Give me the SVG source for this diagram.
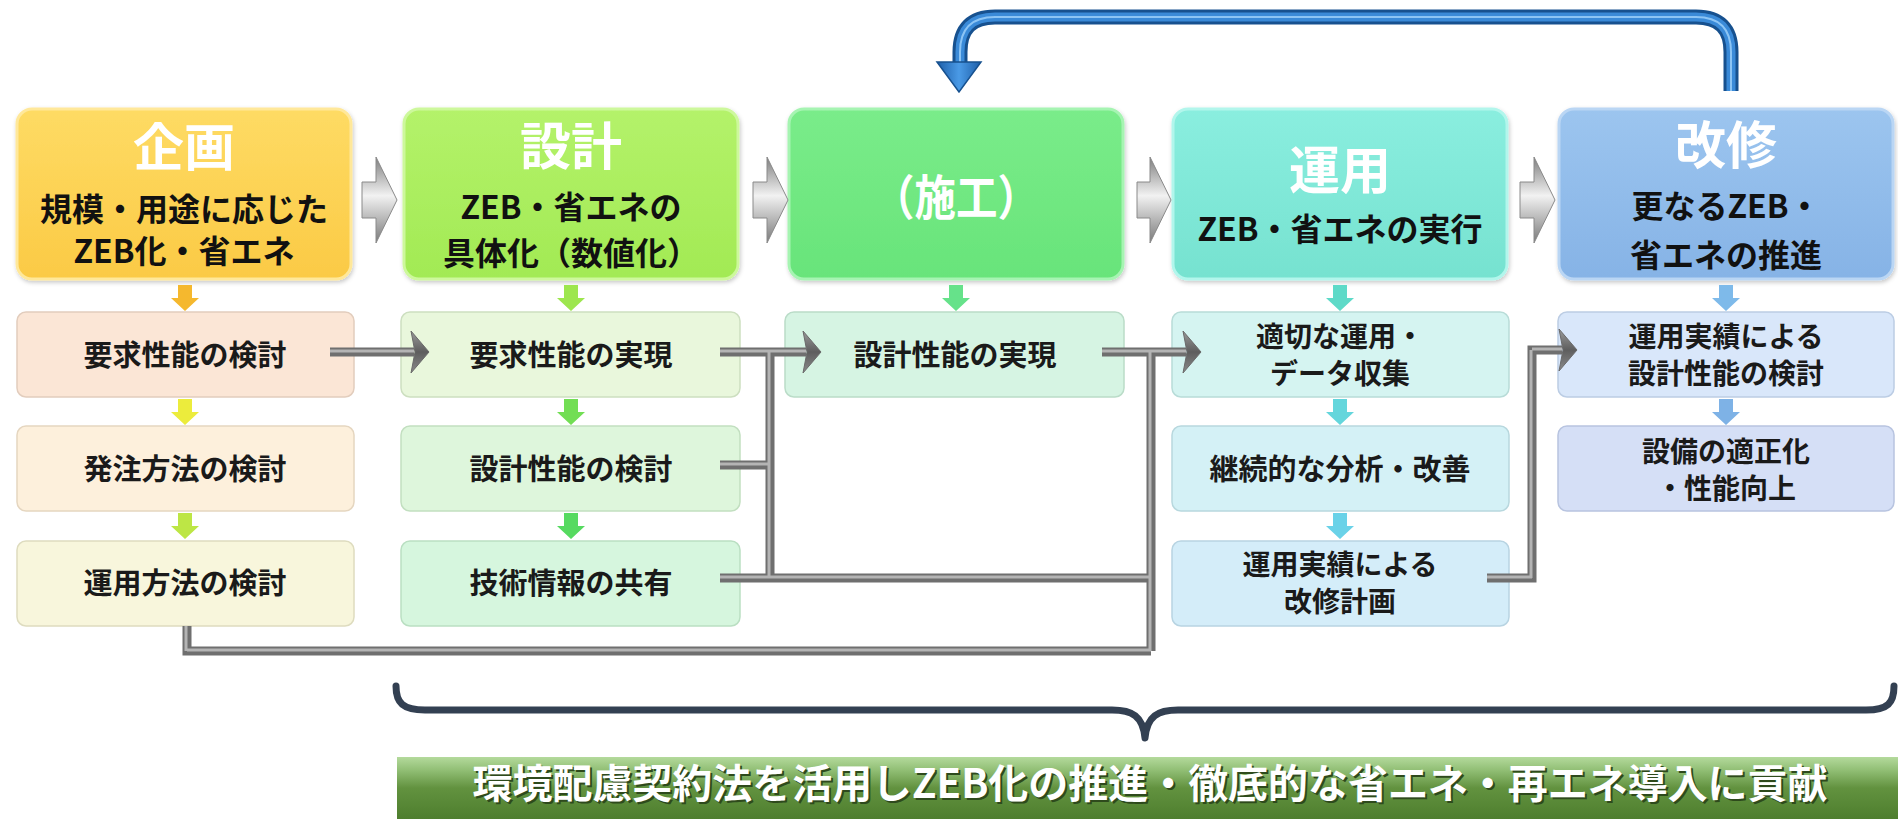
<svg xmlns="http://www.w3.org/2000/svg" width="1898" height="819" viewBox="0 0 1898 819">
<defs>
<style>
.t{font-family:"Noto Sans CJK JP","Noto Sans",sans-serif;font-weight:700;text-anchor:middle}
.ttl{font-size:51px;fill:#ffffff}
.sub{font-size:32px;fill:#111111}
.s{font-size:29px;fill:#1a1a1a}
.s2{font-size:28px;fill:#1a1a1a}
.ban{font-size:40px;fill:#ffffff}
.banS{font-size:40px;fill:#2e4a1c}
.conn{fill:none;stroke:#6f6f6f;stroke-width:9}
.connhi{fill:none;stroke:#b4b4b4;stroke-width:3}
.ah{fill:url(#gHead);stroke:#6a6a6a;stroke-width:1}
.chev{fill:url(#gChev);stroke:#8a8a8a;stroke-width:1}
.sb{stroke-width:1.5}
</style>
<linearGradient id="gY" x1="0" y1="0" x2="0" y2="1"><stop offset="0" stop-color="#fedb64"/><stop offset="1" stop-color="#fbca45"/></linearGradient>
<linearGradient id="gL" x1="0" y1="0" x2="0" y2="1"><stop offset="0" stop-color="#b4f26a"/><stop offset="1" stop-color="#a2ea54"/></linearGradient>
<linearGradient id="gG" x1="0" y1="0" x2="0" y2="1"><stop offset="0" stop-color="#7aec8a"/><stop offset="1" stop-color="#68e47a"/></linearGradient>
<linearGradient id="gT" x1="0" y1="0" x2="0" y2="1"><stop offset="0" stop-color="#8aeedf"/><stop offset="1" stop-color="#76e2d0"/></linearGradient>
<linearGradient id="gB" x1="0" y1="0" x2="0" y2="1"><stop offset="0" stop-color="#9cc5ef"/><stop offset="1" stop-color="#86b3e6"/></linearGradient>
<linearGradient id="gChev" x1="0" y1="0" x2="0" y2="1"><stop offset="0" stop-color="#7e7e7e"/><stop offset="0.45" stop-color="#f2f2f2"/><stop offset="1" stop-color="#7a7a7a"/></linearGradient>
<linearGradient id="gHead" x1="0" y1="0" x2="0" y2="1"><stop offset="0" stop-color="#9a9a9a"/><stop offset="0.5" stop-color="#5e5e5e"/><stop offset="1" stop-color="#8a8a8a"/></linearGradient>
<linearGradient id="gBlueH" x1="0" y1="0" x2="1" y2="0"><stop offset="0" stop-color="#1d5ea8"/><stop offset="0.5" stop-color="#4a9ae6"/><stop offset="1" stop-color="#1d5ea8"/></linearGradient>
<linearGradient id="gBan" x1="0" y1="0" x2="0" y2="1"><stop offset="0" stop-color="#b4da9c"/><stop offset="0.2" stop-color="#93c077"/><stop offset="0.5" stop-color="#62923f"/><stop offset="1" stop-color="#4e7e2e"/></linearGradient>
<filter id="sh" x="-5%" y="-5%" width="110%" height="115%"><feDropShadow dx="1" dy="2" stdDeviation="2" flood-color="#000" flood-opacity="0.22"/></filter>
</defs>
<rect width="1898" height="819" fill="#ffffff"/>

<!-- top nodes -->
<g id="n-kikaku">
<rect x="17" y="109" width="334" height="170" rx="15" fill="url(#gY)" stroke="#ffe89a" stroke-width="3" filter="url(#sh)"/>
<text class="t ttl" x="184" y="166">企画</text>
<text class="t sub" x="184" y="221">規模・用途に応じた<tspan x="184" dy="42">ZEB化・省エネ</tspan></text>
</g>
<g id="n-sekkei">
<rect x="404" y="109" width="334" height="170" rx="15" fill="url(#gL)" stroke="#cdf89c" stroke-width="3" filter="url(#sh)"/>
<text class="t ttl" x="571" y="165">設計</text>
<text class="t sub" x="571" y="219">ZEB・省エネの<tspan x="571" dy="46">具体化（数値化）</tspan></text>
</g>
<g id="n-seko">
<rect x="789" y="109" width="334" height="170" rx="15" fill="url(#gG)" stroke="#a6f4b2" stroke-width="3" filter="url(#sh)"/>
<text class="t ttl" x="956" y="215" style="font-size:48px" textLength="166" lengthAdjust="spacingAndGlyphs">（施工）</text>
</g>
<g id="n-unyo">
<rect x="1173" y="109" width="334" height="170" rx="15" fill="url(#gT)" stroke="#b2f6ec" stroke-width="3" filter="url(#sh)"/>
<text class="t ttl" x="1340" y="189">運用</text>
<text class="t sub" x="1340" y="241">ZEB・省エネの実行</text>
</g>
<g id="n-kaishu">
<rect x="1559" y="109" width="334" height="170" rx="15" fill="url(#gB)" stroke="#bad6f4" stroke-width="3" filter="url(#sh)"/>
<text class="t ttl" x="1726" y="164">改修</text>
<text class="t sub" x="1726" y="218">更なるZEB・<tspan x="1726" dy="49">省エネの推進</tspan></text>
</g>

<!-- sub nodes -->
<g id="s1-1"><rect class="sb" x="17" y="312" width="337" height="85" rx="9" fill="#fbe6d6" stroke="#e2cdbd"/><text class="t s" x="185" y="366">要求性能の検討</text></g>
<g id="s1-2"><rect class="sb" x="17" y="426" width="337" height="85" rx="9" fill="#fdf0dc" stroke="#e5d6c0"/><text class="t s" x="185" y="480">発注方法の検討</text></g>
<g id="s1-3"><rect class="sb" x="17" y="541" width="337" height="85" rx="9" fill="#f8f6dc" stroke="#dedcbf"/><text class="t s" x="185" y="594">運用方法の検討</text></g>

<g id="s2-1"><rect class="sb" x="401" y="312" width="339" height="85" rx="9" fill="#e9f7dc" stroke="#cddfc0"/><text class="t s" x="571" y="366">要求性能の実現</text></g>
<g id="s2-2"><rect class="sb" x="401" y="426" width="339" height="85" rx="9" fill="#def6dc" stroke="#c2dfc0"/><text class="t s" x="571" y="480">設計性能の検討</text></g>
<g id="s2-3"><rect class="sb" x="401" y="541" width="339" height="85" rx="9" fill="#d6f6de" stroke="#badfc2"/><text class="t s" x="571" y="594">技術情報の共有</text></g>

<g id="s3-1"><rect class="sb" x="785" y="312" width="339" height="85" rx="9" fill="#d6f4e3" stroke="#badcc8"/><text class="t s" x="955" y="366">設計性能の実現</text></g>

<g id="s4-1"><rect class="sb" x="1172" y="312" width="337" height="85" rx="9" fill="#d5f4f1" stroke="#b8dcd8"/><text class="t s2" x="1340" y="347">適切な運用・<tspan x="1340" dy="37">データ収集</tspan></text></g>
<g id="s4-2"><rect class="sb" x="1172" y="426" width="337" height="85" rx="9" fill="#d4f1f6" stroke="#b8d8de"/><text class="t s" x="1340" y="480">継続的な分析・改善</text></g>
<g id="s4-3"><rect class="sb" x="1172" y="541" width="337" height="85" rx="9" fill="#d4edf9" stroke="#b8d4e2"/><text class="t s2" x="1340" y="575">運用実績による<tspan x="1340" dy="37">改修計画</tspan></text></g>

<g id="s5-1"><rect class="sb" x="1558" y="312" width="336" height="85" rx="9" fill="#d9e7fa" stroke="#bccde4"/><text class="t s2" x="1726" y="347">運用実績による<tspan x="1726" dy="37">設計性能の検討</tspan></text></g>
<g id="s5-2"><rect class="sb" x="1558" y="426" width="336" height="85" rx="9" fill="#d5dff6" stroke="#b8c4e0"/><text class="t s2" x="1726" y="462">設備の適正化<tspan x="1726" dy="37">・性能向上</tspan></text></g>

<!-- connectors -->
<g id="connectors">
<path class="chev" d="M362 182 H376 V157 L397 200 L376 243 V218 H362 Z"/>
<path class="chev" d="M753 182 H767 V157 L788 200 L767 243 V218 H753 Z"/>
<path class="chev" d="M1137 182 H1150 V157 L1171 200 L1150 243 V218 H1137 Z"/>
<path class="chev" d="M1520 182 H1534 V157 L1555 200 L1534 243 V218 H1520 Z"/>

<path d="M178 285 h14 v13 h7 l-14 13 l-14 -13 h7 z" fill="#f5b82e"/>
<path d="M178 399 h14 v13 h7 l-14 13 l-14 -13 h7 z" fill="#ecec3c"/>
<path d="M178 513 h14 v13 h7 l-14 13 l-14 -13 h7 z" fill="#bde645"/>
<path d="M564 285 h14 v13 h7 l-14 13 l-14 -13 h7 z" fill="#9de64e"/>
<path d="M564 399 h14 v13 h7 l-14 13 l-14 -13 h7 z" fill="#72de54"/>
<path d="M564 513 h14 v13 h7 l-14 13 l-14 -13 h7 z" fill="#56da60"/>
<path d="M949 285 h14 v13 h7 l-14 13 l-14 -13 h7 z" fill="#66e28a"/>
<path d="M1333 285 h14 v13 h7 l-14 13 l-14 -13 h7 z" fill="#5edac8"/>
<path d="M1333 399 h14 v13 h7 l-14 13 l-14 -13 h7 z" fill="#64d6dc"/>
<path d="M1333 513 h14 v13 h7 l-14 13 l-14 -13 h7 z" fill="#6ad2e8"/>
<path d="M1719 285 h14 v13 h7 l-14 13 l-14 -13 h7 z" fill="#7ebaea"/>
<path d="M1719 399 h14 v13 h7 l-14 13 l-14 -13 h7 z" fill="#7eb2e6"/>

<g>
<path class="conn" d="M330 352 H414"/>
<path class="conn" d="M720 352 H806 M720 465 H770 M770 352 V578 M720 578 H1151"/>
<path class="conn" d="M1102 352 H1186 M1151 352 V651 M187 626 V651 H1151"/>
<path class="conn" d="M1487 578 H1532 V350 H1562"/>
<path class="connhi" d="M330 351 H414"/>
<path class="connhi" d="M720 351 H806 M720 464 H770 M769 352 V578 M720 577 H1151"/>
<path class="connhi" d="M1102 351 H1186 M1150 352 V651 M186 626 V651 M187 650 H1151"/>
<path class="connhi" d="M1487 577 H1532 M1531 578 V350 M1532 349 H1562"/>
</g>
<polygon class="ah" points="411,331 429,352 411,373 415,352"/>
<polygon class="ah" points="803,331 821,352 803,373 807,352"/>
<polygon class="ah" points="1183,331 1201,352 1183,373 1187,352"/>
<polygon class="ah" points="1559,329 1577,350 1559,371 1563,350"/>

<path d="M1731 91 V52 Q1731 17 1696 17 H995 Q960 17 960 52 V64" fill="none" stroke="#17518f" stroke-width="15"/>
<path d="M1731 91 V52 Q1731 17 1696 17 H995 Q960 17 960 52 V64" fill="none" stroke="#3a8ad8" stroke-width="9"/>
<path d="M1731 91 V52 Q1731 17 1696 17 H995 Q960 17 960 52 V64" fill="none" stroke="#8cc4f4" stroke-width="2"/>
<polygon points="937,62 981,62 959,92" fill="url(#gBlueH)" stroke="#17518f" stroke-width="1.5"/>

<path d="M396 686 C396 703 403 710 425 710 L1112 710 C1132 710 1143 716 1145 738 C1147 716 1158 710 1178 710 L1866 710 C1888 710 1894 703 1894 686" fill="none" stroke="#334052" stroke-width="7" stroke-linecap="round" stroke-linejoin="round"/>
</g>

<g id="banner">
<rect x="397" y="757" width="1501" height="62" fill="url(#gBan)"/>
<text class="t banS" x="1152" y="800" textLength="1355" lengthAdjust="spacingAndGlyphs">環境配慮契約法を活用しZEB化の推進・徹底的な省エネ・再エネ導入に貢献</text>
<text class="t ban" x="1150" y="798" textLength="1355" lengthAdjust="spacingAndGlyphs">環境配慮契約法を活用しZEB化の推進・徹底的な省エネ・再エネ導入に貢献</text>
</g>
</svg>
